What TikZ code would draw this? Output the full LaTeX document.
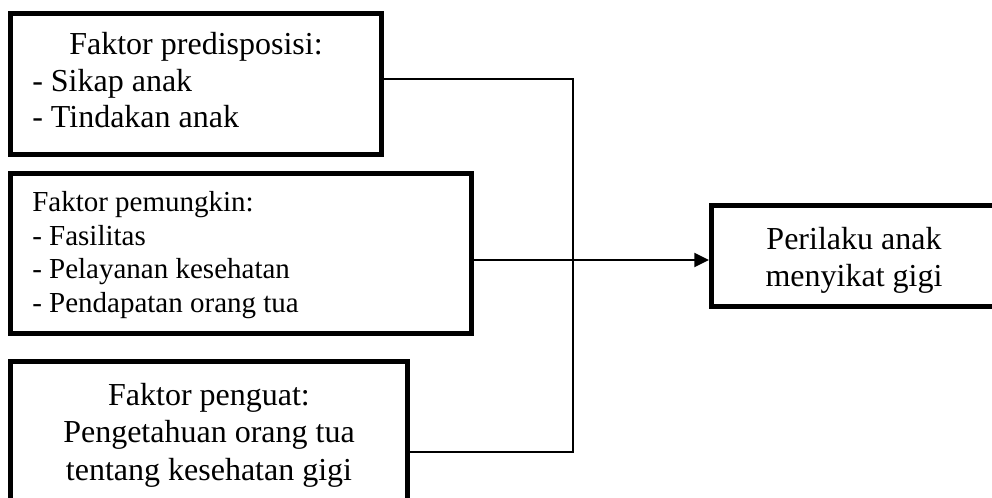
\documentclass[tikz,border=0pt]{standalone}
\usepackage{fontspec}
\setmainfont{Liberation Serif}
\usetikzlibrary{arrows.meta}
\tikzset{
  box/.style={draw, line width=4.1pt, inner sep=0pt},
  big/.style={font=\fontsize{24}{28}\selectfont, inner sep=0pt},
  small/.style={font=\fontsize{21.75}{25}\selectfont, inner sep=0pt},
  conn/.style={line width=1.5pt},
}
\begin{document}
\begin{tikzpicture}[x=0.75pt, y=-0.75pt]
\useasboundingbox (0,0) rectangle (992,498);
% boxes
\node[box, minimum width=277.875pt, minimum height=105.375pt] (b1) at (196,84) {};
\node[box, minimum width=345.375pt, minimum height=119.625pt] (b2) at (241,253.5) {};
\node[box, minimum width=297.375pt, minimum height=133.69pt] (b3) at (209,450.875) {};
\node[box, minimum width=225.19pt, minimum height=75.375pt] (b4) at (861.875,256) {};
% texts box 1
\node[big, anchor=base] (t1a) at (196,55) {Faktor predisposisi:};
\node[big, anchor=base west] (t1b) at (32,92) {- Sikap anak};
\node[big, anchor=base west] (t1c) at (32,128) {- Tindakan anak};
% texts box 2
\node[small, anchor=base west] (t2a) at (32,212) {Faktor pemungkin:};
\node[small, anchor=base west] (t2b) at (32,246) {- Fasilitas};
\node[small, anchor=base west] (t2c) at (32,279) {- Pelayanan kesehatan};
\node[small, anchor=base west] (t2d) at (32,313) {- Pendapatan orang tua};
% texts box 3
\node[big, anchor=base] (t3a) at (209,406) {Faktor penguat:};
\node[big, anchor=base] (t3b) at (209,443) {Pengetahuan orang tua};
\node[big, anchor=base] (t3c) at (209,480) {tentang kesehatan gigi};
% texts box 4
\node[big, anchor=base] (t4a) at (854,250) {Perilaku anak};
\node[big, anchor=base] (t4b) at (854,287) {menyikat gigi};
% connectors
\coordinate (j1) at (573,79);
\coordinate (j3) at (573,452);
\coordinate (ar) at (0,260);
\draw[conn] (b1.east |- j1) -- (j1) -- (j3) -- (b3.east |- j3);
\draw[conn, -{Triangle[length=11pt,width=10.5pt]}] (b2.east |- ar) -- (b4.west |- ar);
\end{tikzpicture}
\end{document}
